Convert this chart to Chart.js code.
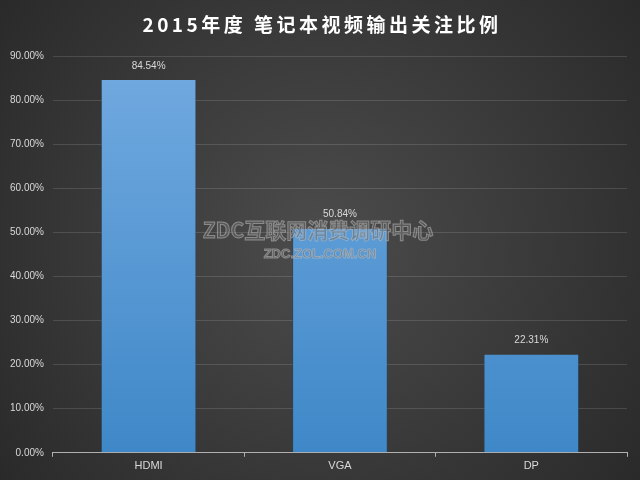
<!DOCTYPE html>
<html>
<head>
<meta charset="utf-8">
<script src="https://cdn.jsdelivr.net/npm/chart.js@4"></script>
<style>
  html, body { margin: 0; padding: 0; background: #333; }
  #wrap { width: 640px; height: 480px; position: relative; }
</style>
</head>
<body>
<div id="wrap"><canvas id="chart" width="640" height="480"></canvas></div>
<script>
const categories = ['HDMI', 'VGA', 'DP'];
const shares = [84.54, 50.84, 22.31];
const titleText = '2015年度 笔记本视频输出关注比例';
const watermarkMain = 'ZDC互联网消费调研中心';
const watermarkSub = 'ZDC.ZOL.COM.CN';

const bgPlugin = {
    id: 'bg',
    beforeDraw(chart) {
        const ctx = chart.ctx;
        const w = chart.width, h = chart.height;
        ctx.save();
        const g = ctx.createRadialGradient(w / 2, h / 2, 10, w / 2, h / 2, w * 0.62);
        g.addColorStop(0, '#4b4b4b');
        g.addColorStop(1, '#2a2a2a');
        ctx.fillStyle = g;
        ctx.fillRect(0, 0, w, h);
        // 제목은 글자 간격 때문에 직접 그림
        ctx.font = 'bold 19px "Noto Sans CJK SC", sans-serif';
        ctx.letterSpacing = '3.5px';
        ctx.fillStyle = '#ffffff';
        ctx.textAlign = 'center';
        ctx.textBaseline = 'middle';
        ctx.fillText(titleText, w / 2 + 2, 25);
        ctx.restore();
    }
};

const labelPlugin = {
    id: 'valueLabels',
    afterDatasetsDraw(chart) {
        const ctx = chart.ctx;
        const meta = chart.getDatasetMeta(0);
        ctx.save();
        ctx.font = '10px "Liberation Sans", Arial, sans-serif';
        ctx.fillStyle = '#d9d9d9';
        ctx.textAlign = 'center';
        ctx.textBaseline = 'bottom';
        meta.data.forEach((bar, i) => {
            ctx.fillText(shares[i].toFixed(2) + '%', bar.x, bar.y - 9);
        });
        ctx.restore();
    }
};

const watermarkPlugin = {
    id: 'watermark',
    afterDraw(chart) {
        const ctx = chart.ctx;
        ctx.save();
        ctx.textAlign = 'center';
        ctx.textBaseline = 'middle';
        ctx.font = 'bold 21px "Noto Sans CJK SC", sans-serif';
        ctx.fillStyle = 'rgba(110,110,110,0.5)';
        ctx.strokeStyle = 'rgba(200,200,200,0.5)';
        ctx.lineWidth = 1;
        ctx.fillText(watermarkMain, 318, 230);
        ctx.strokeText(watermarkMain, 318, 230);
        ctx.font = 'bold 13px "Liberation Sans", Arial, sans-serif';
        ctx.fillText(watermarkSub, 320, 254);
        ctx.strokeText(watermarkSub, 320, 254);
        ctx.restore();
    }
};

document.addEventListener('DOMContentLoaded', function() {
    const canvas = document.getElementById('chart');

    const myChart = new Chart(canvas, {
        type: 'bar',
        data: {
            labels: categories,
            datasets: [{
                data: shares,
                backgroundColor: function(context) {
                    const chart = context.chart;
                    const area = chart.chartArea;
                    if (!area) return '#5b9bd5';
                    const g = chart.ctx.createLinearGradient(0, area.top, 0, area.bottom);
                    g.addColorStop(0, '#72aae0');
                    g.addColorStop(1, '#3f88c8');
                    return g;
                },
                borderColor: 'rgba(40,70,100,0.6)',
                borderWidth: { left: 1, right: 1, top: 0, bottom: 0 },
                barPercentage: 0.5,
                categoryPercentage: 1.0
            }]
        },
        options: {
            responsive: false,
            animation: false,
            layout: { padding: { left: 1, right: 13, top: 56, bottom: 4 } },
            plugins: {
                legend: { display: false },
                tooltip: { enabled: false },
                title: { display: false }
            },
            scales: {
                x: {
                    grid: {
                        display: true,
                        drawOnChartArea: false,
                        drawTicks: true,
                        tickLength: 4,
                        color: '#b0b0b0',
                        offset: true
                    },
                    border: { display: true, color: '#b0b0b0', width: 1 },
                    ticks: {
                        color: '#d9d9d9',
                        font: { family: '"Liberation Sans", Arial, sans-serif', size: 11 },
                        padding: 3
                    }
                },
                y: {
                    min: 0,
                    max: 90,
                    ticks: {
                        stepSize: 10,
                        color: '#d9d9d9',
                        font: { family: '"Liberation Sans", Arial, sans-serif', size: 10 },
                        padding: 9,
                        callback: v => v.toFixed(2) + '%'
                    },
                    grid: {
                        color: 'rgba(255,255,255,0.13)',
                        drawTicks: false
                    },
                    border: { display: false }
                }
            }
        },
        plugins: [bgPlugin, labelPlugin, watermarkPlugin]
    });
});
</script>
</body>
</html>
